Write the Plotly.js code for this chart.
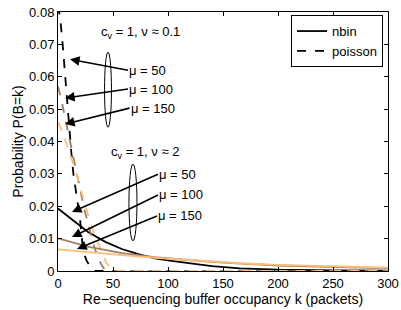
<!DOCTYPE html>
<html>
<head>
<meta charset="utf-8">
<script src="https://cdn.plot.ly/plotly-3.0.1.min.js"></script>
<style>html,body{margin:0;padding:0;background:#fff;}#chart{width:401px;height:310px;}</style>
</head>
<body>
<div id="chart"></div>
<script>
// ---- data ----
// Poisson (dashed), c_v = 1, nu ~ 0.1
const kPois50  = [0,2,4,6,8,10,12,14,16,18,20,22,24,26,28,30,32,34,60,100,150,200,250,300];
const pPois50  = [0.082,0.078,0.071,0.062,0.053,0.045,0.037,0.030,0.025,0.020,0.016,0.009,0.005,0.0032,0.0018,0.0009,0.0003,0,0,0,0,0,0,0];
const kPois100 = [0,3,6,9,12,15,18,21,24,27,30,33,36,39,42,45,60,100,150,200,250,300];
const pPois100 = [0.057,0.053,0.048,0.043,0.038,0.033,0.028,0.023,0.019,0.015,0.011,0.0075,0.0045,0.0022,0.0007,0,0,0,0,0,0,0];
const kPois150 = [0,4,8,12,16,20,24,28,32,36,40,44,48,52,56,100,150,200,250,300];
const pPois150 = [0.046,0.043,0.039,0.035,0.031,0.026,0.021,0.0165,0.0125,0.0088,0.0056,0.0025,0.0009,0.0003,0,0,0,0,0,0];
// Negative binomial (solid), c_v = 1, nu ~ 2
const kNb50  = [0,15,27,43,58,73,88,103,118,140,165,200,250,300];
const pNb50  = [0.0193,0.0152,0.0121,0.0090,0.0068,0.0052,0.0039,0.0031,0.0024,0.0015,0.0008,0.0004,0.0002,0.0001];
const kNb100 = [0,27,58,88,118,150,200,250,300];
const pNb100 = [0.0101,0.0075,0.0055,0.0043,0.0034,0.0026,0.0017,0.0012,0.0008];
const kNb150 = [0,27,58,88,118,165,200,250,300];
const pNb150 = [0.0067,0.0058,0.0049,0.0041,0.0034,0.0024,0.0019,0.0014,0.0010];

const seriesNames = ['nbin','poisson'];
const muLabels = ['μ = 50','μ = 100','μ = 150'];
const groupLabels = ['c<sub>v</sub> = 1, ν ≈ 0.1','c<sub>v</sub> = 1, ν ≈ 2'];
const xTicks = [0,50,100,150,200,250,300];
const yTicks = [0,0.01,0.02,0.03,0.04,0.05,0.06,0.07,0.08];

const cBlack = '#000000', cBrown = '#9f7f62', cOrange = '#fbbd78';
const LW = 1.8;

const traces = [
  {x:kNb50, y:pNb50, mode:'lines', line:{color:cBlack,width:LW}, name:seriesNames[0], showlegend:true},
  {x:kPois50, y:pPois50, mode:'lines', line:{color:cBlack,width:LW,dash:'dash'}, name:seriesNames[1], showlegend:true},
  {x:kPois100, y:pPois100, mode:'lines', line:{color:cBrown,width:LW,dash:'dash'}, showlegend:false},
  {x:kPois150, y:pPois150, mode:'lines', line:{color:cOrange,width:LW,dash:'dash'}, showlegend:false},
  {x:kNb100, y:pNb100, mode:'lines', line:{color:cBrown,width:LW}, showlegend:false},
  {x:kNb150, y:pNb150, mode:'lines', line:{color:cOrange,width:LW}, showlegend:false}
];

const font = {family:'Liberation Sans, Arial, sans-serif', size:13, color:'#000'};
const titleFont = {family:'Liberation Sans, Arial, sans-serif', size:14, color:'#000'};

// arrow from the left-middle of the label (tx,ty) to the head (hx,hy)
function arrowLabel(hx,hy,tx,ty,t){
  return {x:hx,y:hy,ax:tx,ay:ty,xref:'x',yref:'y',axref:'x',ayref:'y',text:t,showarrow:true,
          xanchor:'left',yanchor:'middle',font:font,borderpad:0,
          arrowhead:2,arrowsize:1.2,arrowwidth:1.6,arrowcolor:'#000',standoff:0,startstandoff:0};
}
function label(x,y,t){
  return {x:x,y:y,xref:'x',yref:'y',text:t,showarrow:false,xanchor:'left',yanchor:'middle',font:font};
}

const annotations = [
  label(37.5,0.0738,groupLabels[0]),
  arrowLabel(10.9,0.0654,63.6,0.0620,muLabels[0]),
  arrowLabel(6.4,0.0534,63.6,0.0562,muLabels[1]),
  arrowLabel(6.4,0.0454,65.0,0.0503,muLabels[2]),
  label(46.5,0.0365,groupLabels[1]),
  arrowLabel(12.7,0.0182,90.9,0.0299,muLabels[0]),
  arrowLabel(12.7,0.0105,90.9,0.0235,muLabels[1]),
  arrowLabel(17.3,0.0068,90.0,0.0170,muLabels[2])
];

const shapes = [
  {type:'circle',xref:'x',yref:'y',x0:42.3,x1:48.6,y0:0.0444,y1:0.0676,line:{color:'#000',width:1}},
  {type:'circle',xref:'x',yref:'y',x0:64.5,x1:71.8,y0:0.0093,y1:0.0330,line:{color:'#000',width:1}}
];

const layout = {
  width:401, height:310,
  margin:{l:58,r:13,t:12,b:39,pad:0},
  paper_bgcolor:'#fff', plot_bgcolor:'#fff',
  font:font,
  showlegend:true,
  legend:{x:0.985,y:0.988,xanchor:'right',yanchor:'top',bordercolor:'#000',borderwidth:1,
          bgcolor:'#fff',font:font,tracegroupgap:0,itemwidth:30},
  xaxis:{range:[0,300],tickvals:xTicks,ticks:'inside',ticklen:4,tickcolor:'#000',
         showline:true,linecolor:'#000',linewidth:1,mirror:'ticks',showgrid:false,zeroline:false,
         title:{text:'Re\u2212sequencing buffer occupancy k (packets)',font:titleFont,standoff:1},
         tickfont:font},
  yaxis:{range:[0,0.08],tickvals:yTicks,ticks:'inside',ticklen:4,tickcolor:'#000',
         showline:true,linecolor:'#000',linewidth:1,mirror:'ticks',showgrid:false,zeroline:false,
         title:{text:'Probability P(B=k)',font:titleFont,standoff:2},
         tickfont:font},
  annotations:annotations,
  shapes:shapes
};

Plotly.newPlot('chart',traces,layout,{staticPlot:true,displayModeBar:false});
</script>
</body>
</html>
